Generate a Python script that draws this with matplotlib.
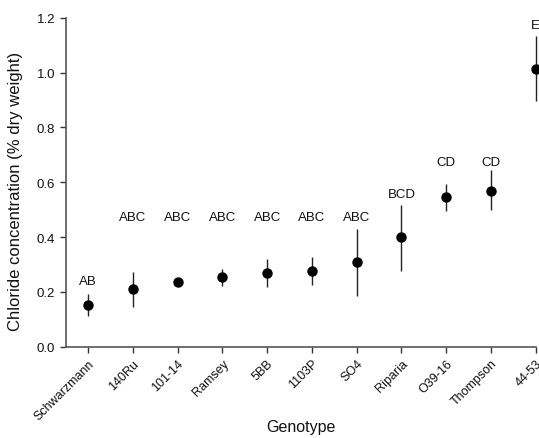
import matplotlib
matplotlib.use("Agg")
import matplotlib.pyplot as plt

genotypes = ["Schwarzmann", "140Ru", "101-14", "Ramsey", "5BB", "1103P",
             "SO4", "Riparia", "O39-16", "Thompson", "44-53"]
means = [0.153, 0.209, 0.237, 0.253, 0.269, 0.276, 0.308, 0.399, 0.545, 0.569, 1.013]
upper = [0.192, 0.271, 0.240, 0.283, 0.320, 0.328, 0.430, 0.518, 0.594, 0.645, 1.134]
lower = [0.113, 0.146, 0.234, 0.223, 0.217, 0.225, 0.186, 0.277, 0.494, 0.499, 0.895]
groups = ["AB", "ABC", "ABC", "ABC", "ABC", "ABC", "ABC", "BCD", "CD", "CD", "E"]
label_y = [0.239, 0.473, 0.473, 0.473, 0.473, 0.473, 0.473, 0.557, 0.673, 0.673, 1.175]

plt.rcParams['font.family'] = ['Liberation Sans', 'DejaVu Sans']

fig = plt.figure(figsize=(5.39, 4.39), dpi=100)
ax = fig.add_axes([0.122, 0.208, 0.872, 0.749])

x = list(range(len(genotypes)))
yerr = [[m - l for m, l in zip(means, lower)], [u - m for m, u in zip(means, upper)]]
ax.errorbar(x, means, yerr=yerr, fmt='o', color='black', ecolor='#222222',
            elinewidth=1.0, capsize=0, markersize=6.5, clip_on=False, zorder=3)

for xi, g, ly in zip(x, groups, label_y):
    ax.text(xi, ly, g, ha='center', va='center', fontsize=9.5, color='#111111', clip_on=False)

ax.set_xlim(-0.5, 10)
ax.set_ylim(0, 1.2)
ax.set_yticks([0.0, 0.2, 0.4, 0.6, 0.8, 1.0, 1.2])
ax.set_yticklabels(["0.0", "0.2", "0.4", "0.6", "0.8", "1.0", "1.2"])
ax.set_xticks(x)
ax.set_xticklabels(genotypes, rotation=45, ha='right', rotation_mode='anchor', fontsize=9)
ax.tick_params(axis='y', labelsize=9.5, colors='#333333', direction='out', length=4, width=1)
ax.tick_params(axis='x', colors='#333333', direction='out', length=4, width=1)
for lab in ax.get_xticklabels() + ax.get_yticklabels():
    lab.set_color('#111111')

for s in ['top', 'right']:
    ax.spines[s].set_visible(False)
for s in ['left', 'bottom']:
    ax.spines[s].set_color('#555555')
    ax.spines[s].set_linewidth(1.2)

ax.set_xlabel("Genotype", fontsize=11.5, color='#111111', va='center')
ax.xaxis.set_label_coords(0.5, -0.243)
ax.set_ylabel("Chloride concentration (% dry weight)", fontsize=12, color='#111111', va='center')
ax.yaxis.set_label_coords(-0.107, 0.475)

fig.savefig("out.png", dpi=100)
